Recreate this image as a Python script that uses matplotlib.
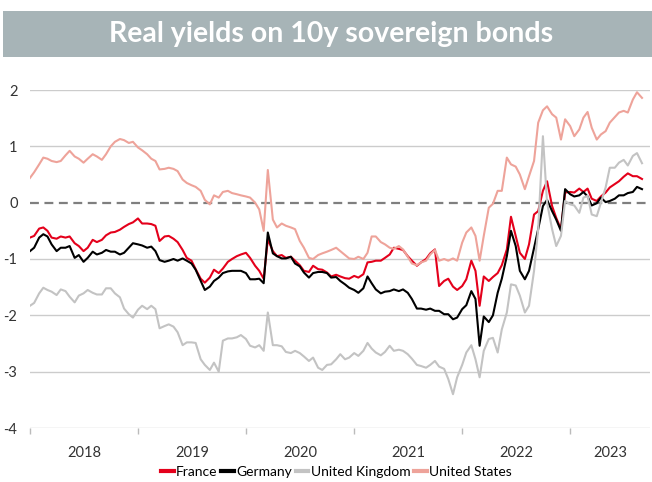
import matplotlib
matplotlib.use("Agg")

import matplotlib.pyplot as plt
import matplotlib.dates as mdates
from matplotlib.patches import Rectangle
import pandas as pd
from datetime import datetime

# ---- data: real 10y yields, semi-monthly readings, Jan 2018 -> Sep 2023 ----
france = [-0.62, -0.59, -0.46, -0.44, -0.50, -0.62, -0.64, -0.60, -0.62, -0.60,
          -0.72, -0.77, -0.86, -0.80, -0.66, -0.70, -0.66, -0.58, -0.53, -0.52,
          -0.48, -0.43, -0.38, -0.35, -0.28, -0.37, -0.37, -0.38, -0.41, -0.68,
          -0.60, -0.59, -0.64, -0.70, -0.84, -0.98, -1.03, -1.18, -1.35, -1.42,
          -1.33, -1.19, -1.25, -1.17, -1.05, -1.00, -0.95, -0.92, -0.89, -0.98,
          -1.12, -1.21, -1.35, -0.65, -0.86, -0.95, -0.93, -0.98, -0.96, -1.03,
          -1.11, -1.21, -1.23, -1.12, -1.18, -1.19, -1.24, -1.31, -1.28, -1.31,
          -1.34, -1.35, -1.30, -1.33, -1.27, -1.06, -1.05, -1.03, -1.03, -0.98,
          -0.92, -0.80, -0.82, -0.84, -0.95, -1.03, -1.12, -1.06, -1.00, -0.90,
          -0.83, -1.48, -1.39, -1.35, -1.49, -1.55, -1.48, -1.36, -1.03, -1.21,
          -1.83, -1.31, -1.39, -1.32, -1.25, -1.11, -0.83, -0.25, -0.59, -0.89,
          -1.00, -0.74, -0.21, -0.15, 0.21, 0.38, -0.06, -0.27, -0.47, 0.18,
          0.19, 0.18, 0.25, 0.19, 0.25, 0.07, 0.03, 0.11, 0.18, 0.27,
          0.33, 0.38, 0.46, 0.52, 0.47, 0.47, 0.42]

germany = [-0.86, -0.80, -0.62, -0.56, -0.60, -0.74, -0.86, -0.80, -0.80, -0.77,
           -0.98, -0.93, -1.05, -0.98, -0.87, -0.92, -0.89, -0.84, -0.87, -0.87,
           -0.92, -0.89, -0.80, -0.72, -0.74, -0.76, -0.80, -0.78, -0.86, -1.02,
           -1.05, -1.03, -1.00, -1.03, -0.99, -1.03, -1.08, -1.19, -1.39, -1.55,
           -1.49, -1.39, -1.33, -1.25, -1.22, -1.21, -1.21, -1.21, -1.25, -1.36,
           -1.36, -1.35, -1.43, -0.53, -0.90, -0.95, -0.99, -0.99, -0.96, -1.08,
           -1.13, -1.24, -1.33, -1.25, -1.23, -1.23, -1.25, -1.33, -1.32, -1.39,
           -1.45, -1.51, -1.55, -1.60, -1.52, -1.31, -1.43, -1.54, -1.61, -1.58,
           -1.57, -1.54, -1.57, -1.54, -1.60, -1.71, -1.88, -1.88, -1.90, -1.88,
           -1.92, -1.92, -1.98, -1.98, -2.07, -2.04, -1.89, -1.82, -1.57, -1.71,
           -2.54, -2.02, -2.12, -2.00, -1.60, -1.35, -0.95, -0.50, -0.77, -1.21,
           -1.36, -1.21, -0.80, -0.47, -0.06, 0.05, -0.15, -0.30, -0.50, 0.24,
           0.15, 0.11, 0.13, 0.19, 0.11, -0.05, -0.01, 0.09, 0.01, 0.03,
           0.07, 0.13, 0.13, 0.17, 0.19, 0.28, 0.24]

united_kingdom = [-1.83, -1.78, -1.61, -1.51, -1.55, -1.58, -1.64, -1.54, -1.57, -1.67,
                  -1.77, -1.65, -1.61, -1.55, -1.60, -1.63, -1.63, -1.52, -1.52, -1.61,
                  -1.68, -1.88, -1.98, -2.04, -1.90, -1.83, -1.89, -1.83, -1.89, -2.23,
                  -2.19, -2.16, -2.20, -2.30, -2.53, -2.48, -2.48, -2.49, -2.78, -2.88,
                  -2.97, -2.84, -3.00, -2.45, -2.41, -2.41, -2.39, -2.35, -2.42, -2.54,
                  -2.57, -2.53, -2.63, -1.95, -2.53, -2.53, -2.55, -2.65, -2.67, -2.63,
                  -2.67, -2.73, -2.81, -2.75, -2.93, -2.97, -2.88, -2.87, -2.78, -2.69,
                  -2.78, -2.75, -2.67, -2.72, -2.63, -2.49, -2.59, -2.66, -2.71, -2.65,
                  -2.54, -2.63, -2.61, -2.63, -2.69, -2.77, -2.88, -2.90, -2.93, -2.88,
                  -2.81, -2.91, -2.95, -3.13, -3.40, -3.10, -2.88, -2.66, -2.53, -2.78,
                  -3.10, -2.63, -2.42, -2.40, -2.66, -2.25, -1.95, -1.45, -1.47, -1.65,
                  -1.95, -1.83, -1.21, -0.47, 1.18, 0.00, -0.47, -0.77, -0.59, 0.03,
                  -0.03, -0.05, -0.18, 0.09, 0.12, -0.21, -0.24, 0.00, 0.27, 0.62,
                  0.62, 0.71, 0.76, 0.66, 0.83, 0.88, 0.70]

united_states = [0.44, 0.54, 0.68, 0.80, 0.78, 0.74, 0.72, 0.74, 0.84, 0.92,
                 0.82, 0.78, 0.71, 0.78, 0.86, 0.82, 0.76, 0.86, 1.00, 1.08,
                 1.13, 1.11, 1.06, 1.08, 0.98, 0.93, 0.86, 0.78, 0.74, 0.59,
                 0.60, 0.62, 0.60, 0.56, 0.41, 0.35, 0.31, 0.28, 0.21, 0.05,
                 -0.03, 0.13, 0.09, 0.19, 0.21, 0.17, 0.15, 0.13, 0.11, 0.09,
                 0.00, -0.12, -0.50, 0.58, -0.30, -0.44, -0.37, -0.41, -0.44, -0.47,
                 -0.68, -0.80, -0.98, -1.00, -0.93, -0.90, -0.87, -0.84, -0.80, -0.86,
                 -0.93, -0.99, -1.00, -0.96, -1.00, -0.89, -0.60, -0.60, -0.70, -0.74,
                 -0.80, -0.82, -0.77, -0.83, -0.96, -1.08, -1.11, -1.06, -1.03, -0.92,
                 -0.84, -1.03, -1.00, -1.03, -0.99, -1.03, -0.71, -0.53, -0.44, -0.59,
                 -1.03, -0.59, -0.09, -0.02, 0.21, 0.21, 0.80, 0.68, 0.64, 0.50,
                 0.24, 0.47, 0.74, 1.42, 1.64, 1.71, 1.57, 1.51, 1.12, 1.48,
                 1.36, 1.18, 1.30, 1.51, 1.61, 1.33, 1.12, 1.21, 1.27, 1.42,
                 1.52, 1.60, 1.63, 1.60, 1.83, 1.96, 1.86]

dates = pd.date_range("2018-01-01", periods=len(france), freq="SMS")

series = [
    ("France", france, "#e4001b"),
    ("Germany", germany, "#000000"),
    ("United Kingdom", united_kingdom, "#c3c3c3"),
    ("United States", united_states, "#eea39a"),
]
years = [2018, 2019, 2020, 2021, 2022, 2023]
yticks = [-4, -3, -2, -1, 0, 1, 2]

plt.rcParams["font.family"] = ["Lato", "DejaVu Sans"]

fig = plt.figure(figsize=(6.52, 4.82), dpi=100)

# ================= TITLE BANNER =================
fig.patches.append(Rectangle((3 / 652, 1 - 57 / 482), 649 / 652, 46 / 482,
                             transform=fig.transFigure, facecolor="#a7b4b7",
                             edgecolor="none", zorder=0))
fig.text(0.508, 1 - 34 / 482, "Real yields on 10y sovereign bonds",
         ha="center", va="center", color="white", fontsize=20.5, fontweight="bold")

# ================= CHART =================
ax = fig.add_axes([30 / 652, 54 / 482, 620 / 652, 338 / 482])

for name, vals, col in series:
    ax.plot(dates, vals, color=col, lw=1.5, label=name, zorder=3)

x0 = mdates.date2num(datetime(2018, 1, 1))
x1 = mdates.date2num(datetime(2023, 9, 28))
ax.set_xlim(x0, x1)
ax.set_ylim(-4, 2)

for y in yticks:
    if y == 0:
        ax.axhline(0, color="#7f7f7f", lw=1.6, ls=(0, (4, 2.5)), zorder=2)
    else:
        ax.axhline(y, color="#cccccc", lw=1.0, zorder=1)

for s in ax.spines.values():
    s.set_visible(False)

ax.set_yticks(yticks)
ax.set_yticklabels([str(y) for y in yticks])
ax.tick_params(axis="y", length=0, pad=9, labelsize=10.5, colors="#333333")

# year boundaries get small ticks, labels sit in the middle of each year
starts = [mdates.date2num(datetime(y, 1, 1)) for y in years]
ends = starts[1:] + [x1]
mids = [(a + b) / 2 for a, b in zip(starts, ends)]
ax.set_xticks(starts)
ax.set_xticklabels([])
ax.tick_params(axis="x", which="major", length=4, color="#bbbbbb", width=1)
ax.set_xticks(mids, minor=True)
ax.set_xticklabels([str(y) for y in years], minor=True)
ax.tick_params(axis="x", which="minor", length=0, pad=13, labelsize=10.5,
               colors="#333333")

# ================= LEGEND =================
fig.legend(loc="center", bbox_to_anchor=(0.516, 0.02), ncol=4, frameon=False,
           fontsize=10, handlelength=0.9, handletextpad=0.15,
           columnspacing=0.3, borderaxespad=0)
for line in fig.legends[0].get_lines():
    line.set_linewidth(3)

plt.savefig("out.png", dpi=100)
plt.close()
